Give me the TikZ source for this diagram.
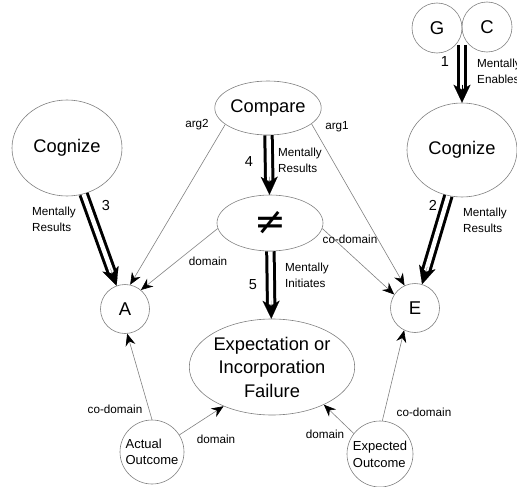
\documentclass[tikz,border=0pt]{standalone}
\usepackage{fontspec}
\setmainfont{Liberation Sans}
\newfontfamily\symfont{DejaVu Sans}
\usetikzlibrary{shapes.geometric,arrows.meta,calc}
\tikzset{
  outline/.style={draw=black!50, line width=0.6pt},
  oval/.style={outline, ellipse, inner sep=0pt, align=center,
    font=\fontsize{18.3}{23.5}\selectfont},
  dot/.style={outline, circle, inner sep=0pt,
    font=\fontsize{18.5}{22}\selectfont},
  small/.style={outline, circle, inner sep=0pt, align=left,
    font=\fontsize{13}{16.7}\selectfont},
  rel/.style={draw=black!50, line width=0.6pt,
    -{Stealth[length=12pt,width=10pt,inset=4pt,color=black]}},
  lbl/.style={font=\fontsize{11.7}{15.7}\selectfont, align=left, inner sep=0pt},
  num/.style={font=\fontsize{14.5}{16}\selectfont, inner sep=0pt},
  shaft/.style={draw=black, line width=3pt, double=white,
    double distance=4.4pt, shorten >=14pt},
  head/.style={line width=0.1pt, -{Stealth[length=18pt,width=17pt,inset=5pt]}}
}
\begin{document}
\begin{tikzpicture}[x=1pt,y=-1pt]
\useasboundingbox (0,0) rectangle (517,487);

% concepts
\node[dot, minimum size=50pt] (g) at (437,28) {G};
\node[dot, minimum size=50pt] (c) at (487,27) {C};
\coordinate (gc) at (462,45);
\node[oval, minimum width=110pt, minimum height=94pt] (cogR) at (462,150) {Cognize};
\node[oval, minimum width=110pt, minimum height=96pt] (cogL) at (67,148) {Cognize};
\node[oval, minimum width=106pt, minimum height=54pt] (cmp) at (268,108) {Compare};
\node[oval, minimum width=106pt, minimum height=56pt] (neq) at (270,223) {\symfont\fontsize{38}{38}\selectfont ≠};
\node[dot, minimum size=49pt] (a) at (125,309) {A};
\node[dot, minimum size=49pt] (e) at (415,308) {E};
\node[oval, minimum width=134pt, minimum height=96pt] (eif) at (272,367)
  {Expectation or\\Incorporation\\Failure};
\node[small, minimum size=64pt] (act) at (152,452) {Actual\\Outcome};
\node[small, minimum size=66pt] (exp) at (380,454) {Expected\\Outcome};

% mental links: double shafts with a heavy head
\path[shaft] (gc) -- (cogR) coordinate[pos=0] (s1) coordinate[pos=1] (t1);
\draw[head] ($(t1)!18pt!(s1)$) -- (t1);
\path[shaft] (cogR) -- (e) coordinate[pos=0] (s2) coordinate[pos=1] (t2);
\draw[head] ($(t2)!18pt!(s2)$) -- (t2);
\path[shaft] (cogL) -- (a) coordinate[pos=0] (s3) coordinate[pos=1] (t3);
\draw[head] ($(t3)!18pt!(s3)$) -- (t3);
\path[shaft] (cmp) -- (neq) coordinate[pos=0] (s4) coordinate[pos=1] (t4);
\draw[head] ($(t4)!18pt!(s4)$) -- (t4);
\path[shaft] (neq) -- (eif) coordinate[pos=0] (s5) coordinate[pos=1] (t5);
\draw[head] ($(t5)!18pt!(s5)$) -- (t5);

\node[num] (n1) at (445,62) {1};
\node[lbl, anchor=west] (l1) at (477,71) {Mentally\\Enables};
\node[num] (n2) at (433,205) {2};
\node[lbl, anchor=west] (l2) at (463,220) {Mentally\\Results};
\node[num] (n3) at (106,206) {3};
\node[lbl, anchor=west] (l3) at (32,219) {Mentally\\Results};
\node[num] (n4) at (249,162) {4};
\node[lbl, anchor=west] (l4) at (278,160) {Mentally\\Results};
\node[num] (n5) at (253,285) {5};
\node[lbl, anchor=west] (l5) at (285,275) {Mentally\\Initiates};

% argument and domain relations
\draw[rel] (cmp.201) -- (a.78);
\draw[rel] (cmp.340) -- (e.115);
\draw[rel] (neq.186) -- (a.50);
\draw[rel] (neq.354) -- (e.147);
\draw[rel] (act.90) -- (a.275);
\draw[rel] (act.32) -- (eif.219);
\draw[rel] (exp.142) -- (eif.324);
\draw[rel] (exp.86) -- (e.244);

\node[lbl] (r1) at (197,125) {arg2};
\node[lbl] (r2) at (337,127) {arg1};
\node[lbl] (r3) at (208,261) {domain};
\node[lbl] (r4) at (350,239) {co-domain};
\node[lbl] (r5) at (115,409) {co-domain};
\node[lbl] (r6) at (216,439) {domain};
\node[lbl] (r7) at (325,434) {domain};
\node[lbl] (r8) at (424,412) {co-domain};
\end{tikzpicture}
\end{document}
